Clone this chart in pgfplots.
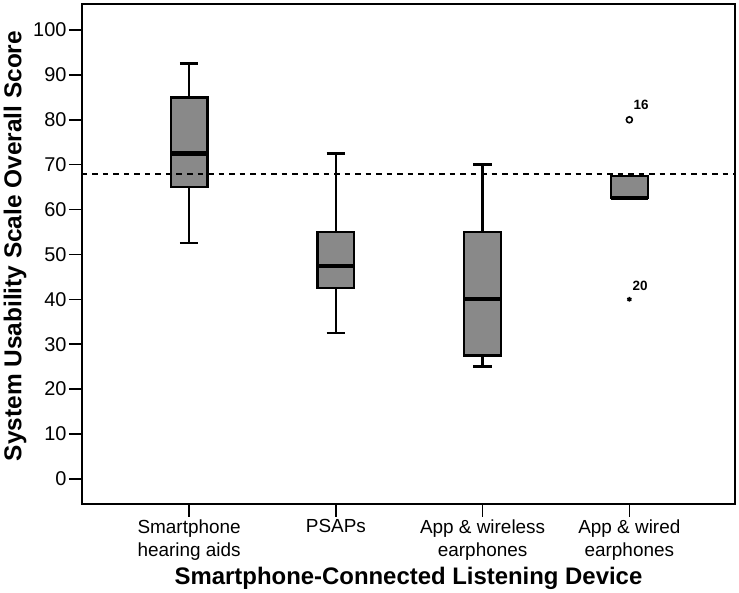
\documentclass[border=0pt]{standalone}
\usepackage{fontspec}
\setmainfont{Liberation Sans}
\usepackage{pgfplots}
\pgfplotsset{compat=1.18}
\usetikzlibrary{calc}
\definecolor{boxgray}{RGB}{137,137,137}
\begin{document}
\begin{tikzpicture}
\begin{axis}[
  scale only axis, width=653bp, height=500bp,
  xmin=-0.73, xmax=3.72, ymin=-5.6, ymax=105.8,
  axis line style={line width=2bp},
  xtick={0,1,2,3},
  xticklabels={{Smartphone\\hearing aids},{PSAPs},{App \& wireless\\earphones},{App \& wired\\earphones}},
  xticklabel style={align=center, font=\fontsize{19}{23}\selectfont, anchor=north, yshift=1bp},
  ytick={0,10,...,100},
  yticklabel style={font=\fontsize{20}{22}\selectfont, xshift=1bp},
  /pgf/number format/assume math mode=true,
  tick align=outside, xtick pos=bottom, ytick pos=left,
  major tick length=13bp,
  tick style={black, line width=1.6bp},
  xlabel={\bfseries Smartphone-Connected Listening Device},
  ylabel={\bfseries System Usability Scale Overall Score},
  xlabel style={font=\fontsize{24}{26}\selectfont, at={(axis description cs:0.5,-0.148)}, anchor=center},
  ylabel style={font=\fontsize{24.5}{26}\selectfont, at={(axis description cs:-0.1026,0.516)}, anchor=center},
  clip=false,
  whisk/.style={black, line width=2.4bp},
  bx/.style={fill=boxgray, draw=black, line width=2.3bp, line join=miter},
  med/.style={black, line width=4.3bp},
]
% Smartphone hearing aids: 52.5 / 65 / 72.5 / 85 / 92.5
\addplot[whisk] coordinates {(0,52.5) (0,65)};
\addplot[whisk] coordinates {(0,85) (0,92.5)};
\addplot[whisk] coordinates {(-0.0625,52.5) (0.0625,52.5)};
\addplot[whisk] coordinates {(-0.0625,92.5) (0.0625,92.5)};
\addplot[bx] coordinates {(-0.125,65) (0.125,65) (0.125,85) (-0.125,85)} -- cycle;
\addplot[med] coordinates {(-0.125,72.5) (0.125,72.5)};
% PSAPs: 32.5 / 42.5 / 47.5 / 55 / 72.5
\addplot[whisk] coordinates {(1,32.5) (1,42.5)};
\addplot[whisk] coordinates {(1,55) (1,72.5)};
\addplot[whisk] coordinates {(0.9375,32.5) (1.0625,32.5)};
\addplot[whisk] coordinates {(0.9375,72.5) (1.0625,72.5)};
\addplot[bx] coordinates {(0.875,42.5) (1.125,42.5) (1.125,55) (0.875,55)} -- cycle;
\addplot[med] coordinates {(0.875,47.5) (1.125,47.5)};
% App & wireless earphones: 25 / 27.5 / 40 / 55 / 70
\addplot[whisk] coordinates {(2,25) (2,27.5)};
\addplot[whisk] coordinates {(2,55) (2,70)};
\addplot[whisk] coordinates {(1.9375,25) (2.0625,25)};
\addplot[whisk] coordinates {(1.9375,70) (2.0625,70)};
\addplot[bx] coordinates {(1.875,27.5) (2.125,27.5) (2.125,55) (1.875,55)} -- cycle;
\addplot[med] coordinates {(1.875,40) (2.125,40)};
% App & wired earphones: 62.5 / 62.5 / 62.5 / 67.5 / 67.5
\addplot[bx] coordinates {(2.875,62.5) (3.125,62.5) (3.125,67.5) (2.875,67.5)} -- cycle;
\addplot[med] coordinates {(2.875,62.5) (3.125,62.5)};

% reference line
\addplot[black, line width=2bp, dash pattern=on 5.5bp off 5bp] coordinates {(-0.73,68) (3.72,68)};

% outliers
\addplot[only marks, mark=o, mark size=3bp, black, line width=1.6bp] coordinates {(3,80)};
\addplot[only marks, mark=asterisk, mark size=2.4bp, black, line width=1.4bp] coordinates {(3,40)};

\node[font=\bfseries\fontsize{13.5}{15}\selectfont] at (axis cs:3.08,83.3) {16};
\node[font=\bfseries\fontsize{13.5}{15}\selectfont] at (axis cs:3.073,42.9) {20};
\end{axis}
\pgfresetboundingbox
\path ($(current axis.south west)+(-82bp,-89bp)$) rectangle ($(current axis.north east)+(4bp,4bp)$);
\end{tikzpicture}
\end{document}
